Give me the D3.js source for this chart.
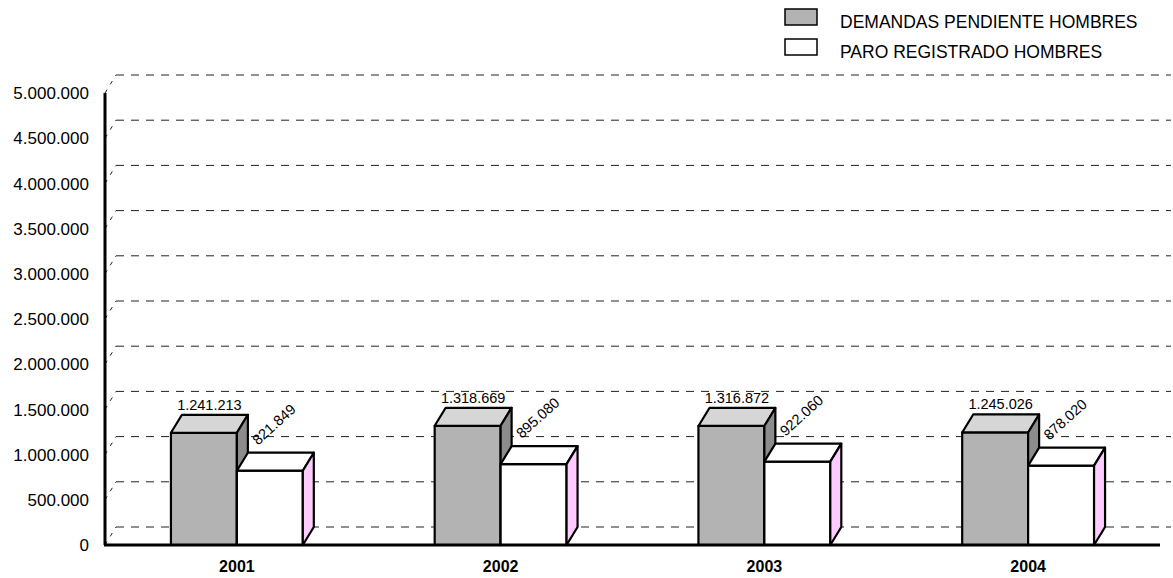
<!DOCTYPE html>
<meta charset="utf-8">
<script src="https://d3js.org/d3.v7.min.js"></script>
<style>
  body { margin: 0; background: #fff; }
  text { font-family: "Liberation Sans", Arial, sans-serif; }
</style>
<svg id="chart" width="1173" height="578"></svg>
<script>

// data
var years = ["2001", "2002", "2003", "2004"];
var series = ["DEMANDAS PENDIENTE HOMBRES", "PARO REGISTRADO HOMBRES"];
var demandas = [1241213, 1318669, 1316872, 1245026];
var paro = [821849, 895080, 922060, 878020];
var ticks = [0, 500000, 1000000, 1500000, 2000000, 2500000, 3000000, 3500000, 4000000, 4500000, 5000000];

var svg = d3.select("#chart");

// 3d depth offset
var dx = 11, dy = -18;

var x = d3.scaleBand()
    .domain(years)
    .range([105, 1160])
    .paddingInner(0.5)
    .paddingOuter(0.25);

var x1 = d3.scaleBand()
    .domain([0, 1])
    .range([0, x.bandwidth()]);

var y = d3.scaleLinear()
    .domain([0, 5000000])
    .range([545, 93]);

// number format with dots
var fmt = function(v){ return d3.format(",")(v).replace(/,/g, "."); };

// back wall gridlines
var grid = svg.append("g");
grid.selectAll("line.g")
  .data(ticks)
  .enter()
  .append("line")
    .attr("x1", 105 + dx)
    .attr("x2", 1160 + dx)
    .attr("y1", function(d){ return y(d) + dy })
    .attr("y2", function(d){ return y(d) + dy })
    .attr("stroke", "#222")
    .attr("stroke-width", 1)
    .attr("stroke-dasharray", "8,7");
// little slants from the axis to the wall
grid.selectAll("line.s")
  .data(ticks)
  .enter()
  .append("line")
    .attr("x1", 105)
    .attr("x2", 105 + dx)
    .attr("y1", function(d){ return y(d) })
    .attr("y2", function(d){ return y(d) + dy })
    .attr("stroke", "#222")
    .attr("stroke-width", 1)
    .attr("stroke-dasharray", "4,6");

// y tick labels
svg.append("g").selectAll("text")
  .data(ticks)
  .enter()
  .append("text")
    .attr("x", 89)
    .attr("y", function(d){ return y(d) })
    .attr("dy", "0.36em")
    .attr("text-anchor", "end")
    .style("font-size", "17px")
    .text(function(d){ return d === 0 ? "0" : fmt(d) });

// bars
var colors = [
  {front: "#b3b3b3", top: "#d6d6d6", side: "#8c8c8c"},
  {front: "#ffffff", top: "#ffffff", side: "#ffccff"}
];

var bars = [];
years.forEach(function(yr, i){
  bars.push({year: yr, s: 0, v: demandas[i]});
  bars.push({year: yr, s: 1, v: paro[i]});
});

function barShape(g, d){
  var x0 = x(d.year) + x1(d.s), w = x1.bandwidth();
  var yt = y(d.v), yb = y(0);
  var c = colors[d.s];
  g.append("rect")
    .attr("x", x0).attr("y", yt).attr("width", w).attr("height", yb - yt)
    .attr("fill", c.front);
  g.append("path")
    .attr("d", "M" + x0 + "," + yt + "L" + (x0 + dx) + "," + (yt + dy) + "L" + (x0 + w + dx) + "," + (yt + dy) + "L" + (x0 + w) + "," + yt + "Z")
    .attr("fill", c.top);
  g.append("path")
    .attr("d", "M" + (x0 + w) + "," + yt + "L" + (x0 + w + dx) + "," + (yt + dy) + "L" + (x0 + w + dx) + "," + (yb + dy) + "L" + (x0 + w) + "," + yb + "Z")
    .attr("fill", c.side);
  g.selectAll("rect,path")
    .attr("stroke", "#000")
    .attr("stroke-width", 2.2)
    .attr("stroke-linejoin", "round");
}

var bg = svg.append("g");
bars.forEach(function(d){ barShape(bg.append("g"), d); });

// value labels
bars.forEach(function(d){
  var x0 = x(d.year) + x1(d.s), w = x1.bandwidth();
  var yt = y(d.v);
  if (d.s === 0) {
    svg.append("text")
      .attr("x", x0 + w / 2 + dx / 2)
      .attr("y", yt + dy - 5)
      .attr("text-anchor", "middle")
      .style("font-size", "14.5px")
      .text(fmt(d.v));
  } else {
    svg.append("text")
      .attr("transform", "translate(" + (x0 + 21) + "," + (yt - 25) + ") rotate(-42)")
      .style("font-size", "14.5px")
      .text(fmt(d.v));
  }
});

// axes lines
svg.append("line")
  .attr("x1", 105).attr("x2", 105)
  .attr("y1", 93).attr("y2", 545)
  .attr("stroke", "#000").attr("stroke-width", 3);
svg.append("line")
  .attr("x1", 104).attr("x2", 1160)
  .attr("y1", 545).attr("y2", 545)
  .attr("stroke", "#000").attr("stroke-width", 3);

// category labels
svg.append("g").selectAll("text")
  .data(years)
  .enter()
  .append("text")
    .attr("x", function(d){ return x(d) + x.bandwidth() / 2 })
    .attr("y", 572)
    .attr("text-anchor", "middle")
    .style("font-size", "16px")
    .style("font-weight", "bold")
    .text(function(d){ return d });

// legend
var legend = svg.append("g");
series.forEach(function(name, i){
  legend.append("rect")
    .attr("x", 785).attr("y", 9 + i * 30)
    .attr("width", 32).attr("height", 16)
    .attr("fill", colors[i].front)
    .attr("stroke", "#000").attr("stroke-width", 1.5);
  legend.append("text")
    .attr("x", 840).attr("y", 28 + i * 30)
    .style("font-size", "17.5px")
    .text(name);
});

</script>
